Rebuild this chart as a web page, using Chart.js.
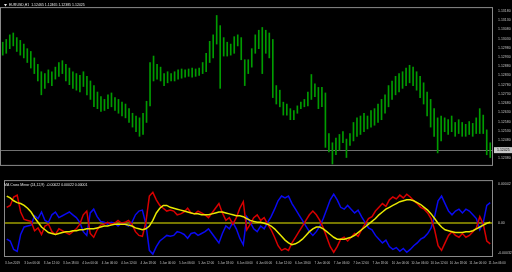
<!DOCTYPE html>
<html>
<head>
<meta charset="utf-8">
<script src="https://cdn.jsdelivr.net/npm/chart.js@4.4.1/dist/chart.umd.min.js"></script>
<style>
  html, body { margin: 0; padding: 0; background: #000; }
  #wrap { position: relative; width: 512px; height: 272px; overflow: hidden; background: #000; }
  #price { position: absolute; left: 0; top: 0; }
  #osc { position: absolute; left: 0; top: 173px; }
</style>
</head>
<body>
<div id="wrap">
  <canvas id="price" width="512" height="173"></canvas>
  <canvas id="osc" width="512" height="99"></canvas>
</div>
<script>
// EURUSD H1 bars, high / low
const highs = [1.13010,1.13025,1.13050,1.13060,1.13035,1.13020,1.13000,1.12975,1.12960,1.12925,
  1.12890,1.12850,1.12840,1.12860,1.12850,1.12875,1.12900,1.12910,1.12890,1.12870,
  1.12850,1.12840,1.12830,1.12850,1.12825,1.12800,1.12775,1.12740,1.12715,1.12700,
  1.12725,1.12735,1.12710,1.12700,1.12685,1.12675,1.12650,1.12625,1.12610,1.12600,
  1.12625,1.12690,1.12900,1.12935,1.12890,1.12875,1.12840,1.12850,1.12840,1.12850,
  1.12860,1.12865,1.12860,1.12865,1.12870,1.12865,1.12870,1.12900,1.12950,1.13015,
  1.13050,1.13155,1.13100,1.13035,1.13010,1.13000,1.13040,1.13050,1.13035,1.12915,
  1.12915,1.12975,1.13050,1.13075,1.13090,1.13075,1.13060,1.13025,1.12775,1.12750,
  1.12685,1.12675,1.12650,1.12640,1.12665,1.12685,1.12700,1.12740,1.12835,1.12785,
  1.12765,1.12765,1.12735,1.12515,1.12465,1.12490,1.12510,1.12525,1.12485,1.12515,
  1.12575,1.12600,1.12610,1.12625,1.12610,1.12640,1.12650,1.12675,1.12700,1.12725,
  1.12775,1.12800,1.12825,1.12840,1.12850,1.12870,1.12885,1.12875,1.12850,1.12825,
  1.12790,1.12740,1.12700,1.12650,1.12600,1.12610,1.12600,1.12590,1.12610,1.12575,
  1.12590,1.12575,1.12565,1.12580,1.12570,1.12600,1.12650,1.12615,1.12535,1.12465];
const lows = [1.12940,1.12950,1.12975,1.12990,1.12960,1.12940,1.12925,1.12900,1.12870,1.12840,
  1.12800,1.12725,1.12760,1.12790,1.12775,1.12810,1.12825,1.12840,1.12800,1.12780,
  1.12760,1.12750,1.12740,1.12770,1.12725,1.12700,1.12660,1.12650,1.12635,1.12640,
  1.12650,1.12660,1.12640,1.12625,1.12610,1.12600,1.12575,1.12550,1.12525,1.12500,
  1.12510,1.12575,1.12665,1.12800,1.12810,1.12800,1.12775,1.12790,1.12800,1.12800,
  1.12810,1.12815,1.12820,1.12825,1.12820,1.12825,1.12830,1.12840,1.12850,1.12900,
  1.12925,1.13000,1.12760,1.12935,1.12935,1.12940,1.12950,1.12990,1.12915,1.12775,
  1.12840,1.12875,1.12950,1.12975,1.12840,1.12950,1.12925,1.12710,1.12675,1.12660,
  1.12615,1.12615,1.12590,1.12590,1.12625,1.12650,1.12660,1.12665,1.12700,1.12715,
  1.12650,1.12660,1.12440,1.12415,1.12350,1.12400,1.12425,1.12465,1.12385,1.12450,
  1.12475,1.12500,1.12510,1.12525,1.12540,1.12550,1.12560,1.12575,1.12590,1.12625,
  1.12660,1.12700,1.12725,1.12740,1.12760,1.12775,1.12790,1.12775,1.12750,1.12710,
  1.12675,1.12610,1.12550,1.12500,1.12410,1.12475,1.12525,1.12510,1.12525,1.12500,
  1.12515,1.12500,1.12500,1.12510,1.12500,1.12515,1.12515,1.12515,1.12400,1.12385];
const lastPrice = 1.12425;
const priceTicks = [1.13180,1.13130,1.13080,1.13030,1.12980,1.12930,1.12880,1.12830,1.12780,
  1.12730,1.12680,1.12630,1.12580,1.12530,1.12480,1.12430,1.12380];

// oscillator lines, in points (0.00001)
const yellowLine = [29,27,24,22,21,19,16,12,6,1,
  -4,-7,-10,-11,-12,-11,-10,-9,-9,-8,
  -8,-7,-7,-6,-6,-6,-5,-4,-3,-3,
  -2,-1,-1,-1,-1,-2,-3,-5,-6,-7,
  -6,-3,3,11,16,19,19,17,16,15,
  14,13,12,11,10,10,9,9,9,10,
  11,12,12,11,10,9,8,8,7,5,
  3,2,1,1,0,-1,-3,-6,-10,-14,
  -18,-21,-23,-22,-20,-17,-13,-9,-6,-4,
  -4,-6,-9,-12,-15,-17,-17,-17,-16,-15,
  -13,-10,-7,-4,-1,2,5,9,12,15,
  17,19,21,23,24,25,25,24,22,20,
  17,14,10,5,0,-4,-7,-8,-9,-10,
  -10,-10,-9,-9,-8,-6,-4,-2,0,1];
const redLine = [17,19,28,30,12,4,3,2,-8,-5,
  -12,-3,-1,-9,-12,-6,-8,-10,-12,-9,
  -6,-1,9,13,-11,-15,-7,-2,-1,1,
  -1,0,3,0,1,3,-1,-9,-13,-14,
  1,29,33,25,19,16,13,14,13,9,
  10,12,16,11,10,13,11,9,6,11,
  16,21,11,3,6,-1,6,16,23,-7,
  -1,6,9,3,6,-1,-7,-15,-24,-29,
  -27,-29,-21,-15,-9,-3,3,9,13,9,
  3,-5,-15,-25,-31,-25,-17,-15,-19,-15,
  -11,-14,-7,-1,5,7,13,17,21,18,
  25,28,26,30,27,31,28,24,21,17,
  15,11,5,-7,-24,-29,-21,-13,-9,-13,
  -15,-11,-15,-13,-9,-5,7,-1,-19,-22];
const blueLine = [-17,-19,-28,-30,-12,-4,-3,-2,8,5,
  12,3,1,9,12,6,8,10,12,9,
  6,1,-9,-13,11,15,7,2,1,-1,
  1,0,-3,0,-1,-3,1,9,13,14,
  -1,-29,-33,-25,-19,-16,-13,-14,-13,-9,
  -10,-12,-16,-11,-10,-13,-11,-9,-6,-11,
  -16,-21,-11,-3,-6,1,-6,-16,-23,7,
  1,-6,-9,-3,-6,1,7,15,24,29,
  27,29,21,15,9,3,-3,-9,-13,-9,
  -3,5,15,25,31,25,17,15,19,15,
  11,14,7,1,-5,-7,-13,-17,-21,-18,
  -25,-28,-26,-30,-27,-31,-28,-24,-21,-17,
  -15,-11,-5,7,24,29,21,13,9,13,
  15,11,15,13,9,5,-7,1,19,22];
const oscTicks = [42, 0, -32];

const timeLabels = ['3 Jun 2019','3 Jun 06:00','3 Jun 12:00','3 Jun 18:00','4 Jun 00:00','4 Jun 06:00',
  '4 Jun 12:00','4 Jun 18:00','5 Jun 00:00','5 Jun 06:00','5 Jun 12:00','5 Jun 18:00','6 Jun 00:00',
  '6 Jun 06:00','6 Jun 12:00','6 Jun 18:00','7 Jun 00:00','7 Jun 06:00','7 Jun 12:00','7 Jun 18:00',
  '10 Jun 00:00','10 Jun 06:00','10 Jun 12:00','10 Jun 18:00','11 Jun 00:00','11 Jun 06:00'];

const axisGrey = '#c4c4c4';
const frameGrey = '#8a8a8a';
const tinyFont = 'Liberation Sans';
const pts = v => (v * 0.00001).toFixed(5);

const priceFrame = {
  id: 'priceFrame',
  beforeDatasetsDraw(chart) {
    const {ctx, chartArea: a, scales: {y}} = chart;
    const py = Math.round(y.getPixelForValue(lastPrice)) + 0.5;
    ctx.save();
    ctx.strokeStyle = '#707070';
    ctx.lineWidth = 1;
    ctx.beginPath(); ctx.moveTo(a.left, py); ctx.lineTo(a.right, py); ctx.stroke();
    ctx.restore();
  },
  afterDraw(chart) {
    const {ctx, chartArea: a, scales: {y}} = chart;
    ctx.save();
    ctx.strokeStyle = frameGrey;
    ctx.lineWidth = 1;
    ctx.strokeRect(a.left - 0.5, a.top - 0.5, a.right - a.left + 1, a.bottom - a.top + 1);
    const py = y.getPixelForValue(lastPrice);
    ctx.fillStyle = '#c8c8c8';
    ctx.fillRect(a.right + 2, py - 3, 18, 6);
    ctx.fillStyle = '#000';
    ctx.font = '3.5px "' + tinyFont + '"';
    ctx.textBaseline = 'middle';
    ctx.fillText(lastPrice.toFixed(5), a.right + 5, py);
    // header
    ctx.fillStyle = '#e8e8e8';
    ctx.beginPath(); ctx.moveTo(4, 4); ctx.lineTo(7, 4); ctx.lineTo(5.5, 6.5); ctx.closePath(); ctx.fill();
    ctx.fillText('EURUSD,H1  ' + highs[139].toFixed(5) + ' ' + highs[139].toFixed(5) + ' ' +
      lows[139].toFixed(5) + ' ' + lastPrice.toFixed(5), 9, 5.5);
    ctx.restore();
  }
};

const oscFrame = {
  id: 'oscFrame',
  afterDraw(chart) {
    const {ctx, chartArea: a} = chart;
    ctx.save();
    ctx.strokeStyle = frameGrey;
    ctx.lineWidth = 1;
    ctx.strokeRect(a.left - 0.5, a.top - 0.5, a.right - a.left + 1, a.bottom - a.top + 1);
    ctx.fillStyle = '#e8e8e8';
    ctx.font = '3.5px "' + tinyFont + '"';
    ctx.textBaseline = 'middle';
    ctx.fillText('MA Cross Mirror (24,12,9)  ' + pts(redLine[139]) + ' ' + pts(blueLine[139]) + ' ' +
      pts(yellowLine[139]), 4, a.top + 4);
    ctx.restore();
  }
};

const xScale = {type: 'linear', min: -0.5, max: 139.5, offset: false};
const toXY = arr => arr.map((v, i) => ({x: i, y: v}));

new Chart(document.getElementById('price'), {
  type: 'bar',
  data: {
    datasets: [{
      data: highs.map((h, i) => ({x: i, y: [lows[i], h]})),
      backgroundColor: '#009c00',
      borderWidth: 0,
      barThickness: 1
    }]
  },
  options: {
    responsive: false,
    animation: false,
    devicePixelRatio: 1,
    layout: {padding: {left: 1, top: 1, right: 0, bottom: 2}},
    plugins: {legend: {display: false}, tooltip: {enabled: false}},
    scales: {
      x: Object.assign({}, xScale, {display: false}),
      y: {
        position: 'right',
        min: 1.12345,
        max: 1.13195,
        grid: {display: false, drawTicks: false},
        border: {display: false},
        afterBuildTicks: s => { s.ticks = priceTicks.map(v => ({value: v})); },
        afterFit: s => { s.width = 20; },
        ticks: {color: axisGrey, font: {size: 3.5, family: tinyFont}, padding: 6, callback: v => v.toFixed(5)}
      }
    }
  },
  plugins: [priceFrame]
});

new Chart(document.getElementById('osc'), {
  type: 'line',
  data: {
    datasets: [
      {data: toXY(yellowLine), borderColor: '#e8e800', borderWidth: 1.5, pointRadius: 0},
      {data: toXY(redLine), borderColor: '#d80000', borderWidth: 1.5, pointRadius: 0},
      {data: toXY(blueLine), borderColor: '#0a0af0', borderWidth: 1.5, pointRadius: 0}
    ]
  },
  options: {
    responsive: false,
    animation: false,
    devicePixelRatio: 1,
    layout: {padding: {left: 1, top: 3, right: 0, bottom: 0}},
    plugins: {legend: {display: false}, tooltip: {enabled: false}},
    scales: {
      x: Object.assign({}, xScale, {
        grid: {display: false, drawTicks: false},
        border: {display: false},
        afterBuildTicks: s => { s.ticks = timeLabels.map((t, k) => ({value: -0.5 + k * 5.56})); },
        afterFit: s => { s.height = 16; },
        ticks: {color: axisGrey, font: {size: 3, family: tinyFont}, align: 'start', autoSkip: false,
          maxRotation: 0, padding: 5, callback: (v, k) => timeLabels[k]}
      }),
      y: {
        position: 'right',
        min: -35,
        max: 45,
        grid: {color: c => c.tick.value === 0 ? '#767600' : 'rgba(0,0,0,0)', lineWidth: 2, drawTicks: false},
        border: {display: false},
        afterBuildTicks: s => { s.ticks = oscTicks.map(v => ({value: v})); },
        afterFit: s => { s.width = 20; },
        ticks: {color: axisGrey, font: {size: 3.5, family: tinyFont}, padding: 6,
          callback: v => v === 0 ? '0.00' : pts(v)}
      }
    }
  },
  plugins: [oscFrame]
});
</script>
</body>
</html>
